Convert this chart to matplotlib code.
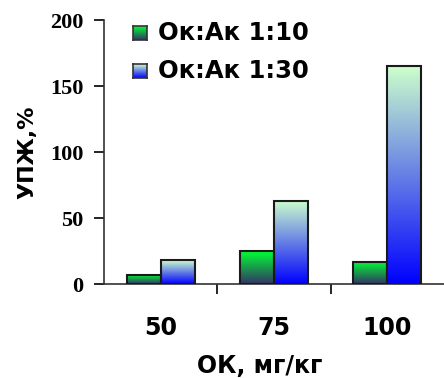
import matplotlib
matplotlib.use('Agg')
import matplotlib.pyplot as plt
import numpy as np
from matplotlib.colors import LinearSegmentedColormap

plt.rcParams['font.family'] = ['DejaVu Sans']
plt.rcParams['font.weight'] = 'bold'

categories = ['50', '75', '100']
series_names = ['Ок:Ак 1:10', 'Ок:Ак 1:30']
vals_1_10 = [7, 25, 17]
vals_1_30 = [18, 63, 165]
y_ticks = [0, 50, 100, 150, 200]

# bottom -> top gradient colours for each series
grad_1_10 = ['#333366', '#00ff33']
grad_1_30 = ['#0000ff', '#ccffcc']

fig = plt.figure(figsize=(4.44, 3.78), dpi=100)
ax = fig.add_axes([104 / 444, 94 / 378, 340 / 444, 264 / 378])

x = np.arange(len(categories))
w = 0.3
grad = np.linspace(0, 1, 256).reshape(-1, 1)

for vals, cols, off in [(vals_1_10, grad_1_10, -w / 2), (vals_1_30, grad_1_30, w / 2)]:
    cmap = LinearSegmentedColormap.from_list('g', cols)
    bars = ax.bar(x + off, vals, w, facecolor='none', edgecolor='#1a1a1a',
                  linewidth=1.5, zorder=3)
    for b in bars:
        x0, y0 = b.get_x(), b.get_y()
        im = ax.imshow(grad, cmap=cmap, origin='lower', aspect='auto',
                       extent=[x0, x0 + b.get_width(), y0, y0 + b.get_height()],
                       zorder=2)
        im.set_clip_path(b)

ax.set_xlim(-0.5, 2.5)
ax.set_ylim(0, 200)
ax.set_yticks(y_ticks)
ax.set_yticklabels([str(t) for t in y_ticks], family='Liberation Serif',
                   fontsize=16, fontweight='bold')
ax.set_xticks(x)
ax.set_xticklabels(categories, fontsize=17, fontweight='bold')
ax.set_xticks(x[:-1] + 0.5, minor=True)
ax.tick_params(axis='x', which='major', length=0, pad=23)
ax.tick_params(axis='x', which='minor', length=7, width=1.2)
ax.tick_params(axis='y', length=7, width=1.2, pad=8)

for s in ['top', 'right']:
    ax.spines[s].set_visible(False)
for s in ['left', 'bottom']:
    ax.spines[s].set_linewidth(1.2)
    ax.spines[s].set_color('#333333')

ax.set_xlabel('ОК, мг/кг', fontsize=17, fontweight='bold', labelpad=10,
              x=(260 - 104) / 340)
ax.set_ylabel('УПЖ,%', fontsize=16, fontweight='bold', labelpad=9)

# legend with gradient squares
for i, (name, cols) in enumerate(zip(series_names, [grad_1_10, grad_1_30])):
    top = 26 + i * 38
    sq = fig.add_axes([133 / 444, (378 - top - 14) / 378, 14 / 444, 14 / 378])
    sq.imshow(grad, cmap=LinearSegmentedColormap.from_list('l', cols),
              origin='lower', aspect='auto')
    sq.set_xticks([])
    sq.set_yticks([])
    for s in sq.spines.values():
        s.set_color('#333333')
        s.set_linewidth(1.2)
    fig.text(158 / 444, (378 - top - 7) / 378, name, fontsize=17.5,
             fontweight='bold', va='center', ha='left')

fig.savefig('out.png', dpi=100)
